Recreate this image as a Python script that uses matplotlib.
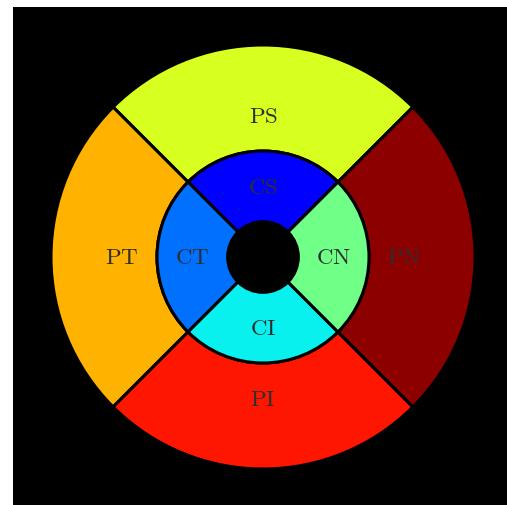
import matplotlib
matplotlib.use("Agg")
import matplotlib.pyplot as plt
from matplotlib.patches import Wedge
import numpy as np

plt.rcParams["mathtext.fontset"] = "cm"

# ETDRS-style grid: ring radii (normalised to the outer ring)
r_center = 1 / 6
r_inner = 1 / 2
r_outer = 1.0

# Sector names and their normalised values (mapped through the jet colormap)
inner_labels = ["CS", "CT", "CI", "CN"]
inner_values = [0.12, 0.235, 0.36, 0.486]
outer_labels = ["PS", "PT", "PI", "PN"]
outer_values = [0.613, 0.721, 0.883, 0.987]

# Sector centre angles (degrees): superior, temporal, inferior, nasal
angles = [90, 180, 270, 0]

cmap = matplotlib.colormaps["jet"]

fig = plt.figure(figsize=(5.07, 5.06), dpi=100)
ax = fig.add_axes([12.5 / 507, -2.5 / 506, 501 / 507, 501 / 506])
ax.set_facecolor("black")
lim = 250.5 / 212
ax.set_xlim(-lim, lim)
ax.set_ylim(-lim, lim)
ax.set_xticks([])
ax.set_yticks([])
for s in ax.spines.values():
    s.set_visible(False)


def draw_ring(labels, values, r_in, r_out):
    for lab, val, ang in zip(labels, values, angles):
        w = Wedge((0, 0), r_out, ang - 45, ang + 45, width=r_out - r_in,
                  facecolor=cmap(val), edgecolor="black", linewidth=2.2)
        ax.add_patch(w)


def label_ring(labels, radius):
    for lab, ang in zip(labels, angles):
        a = np.deg2rad(ang)
        ax.text(radius * np.cos(a), radius * np.sin(a), r"$\mathrm{%s}$" % lab,
                ha="center", va="center", fontsize=16.5, color="#2e2e2e")


draw_ring(outer_labels, outer_values, r_inner, r_outer)
draw_ring(inner_labels, inner_values, r_center, r_inner)
label_ring(inner_labels, 1 / 3)
label_ring(outer_labels, 2 / 3)

fig.savefig("out.png", dpi=100)
